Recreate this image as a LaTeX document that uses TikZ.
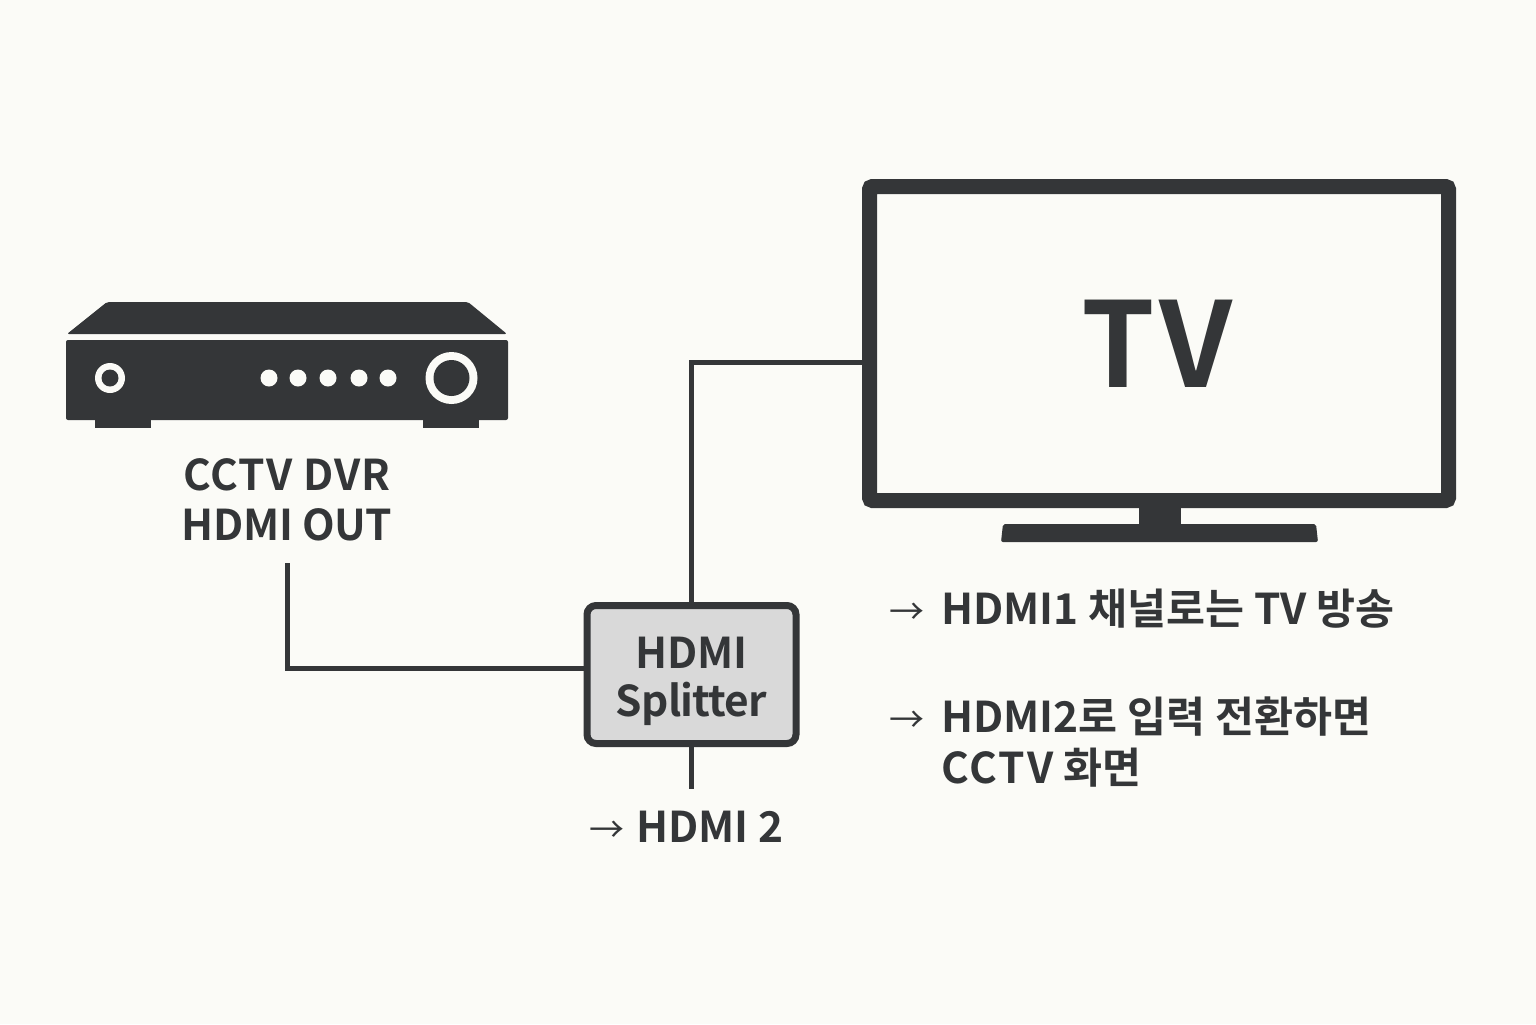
\documentclass[tikz,border=0pt]{standalone}
\usepackage{fontspec}
\setmainfont{Noto Sans CJK KR}[BoldFont={Noto Sans CJK KR Bold}]
\newfontfamily\arrowfont{Noto Sans CJK KR}
\definecolor{bgc}{HTML}{FBFBF7}
\definecolor{ink}{HTML}{343638}
\definecolor{boxc}{HTML}{D9D9D9}
\newcommand{\arrglyph}{{\arrowfont\mdseries\fontsize{17.5pt}{17.5pt}\selectfont →}}
\newcommand{\spaced}[2]{{\addfontfeature{LetterSpace=#1}#2}}
\tikzset{
  lbl/.style={inner sep=0pt,text=ink,font=\bfseries\fontsize{21.2pt}{25pt}\selectfont},
  wire/.style={draw=ink,line width=2.5pt,line join=miter},
  solid ink/.style={fill=ink,draw=none},
  hole/.style={fill=bgc,draw=none,circle,inner sep=0pt},
}
\begin{document}
\begin{tikzpicture}[x=0.5pt,y=-0.5pt]
\fill[bgc] (0,0) rectangle (1536,1024);
\useasboundingbox (0,0) rectangle (1536,1024);
% DVR
\fill[ink,rounded corners=1pt] (107,302) -- (468,302) -- (507,334) -- (67,334) -- cycle;
\node[solid ink,rounded corners=1pt,minimum width=221pt,minimum height=40pt,inner sep=0pt] (dvr) at (287,380) {};
\fill[ink] (95,419) rectangle (151,428);
\fill[ink] (423,419) rectangle (479,428);
\node[hole,minimum size=15pt] (ringa) at (110,378) {};
\node[solid ink,circle,minimum size=8.5pt,inner sep=0pt] (ringb) at (110,378) {};
\foreach \n/\x in {a/269,b/298,c/328,d/359,e/388}
  \node[hole,minimum size=8.5pt] (dot\n) at (\x,378) {};
\node[hole,minimum size=26pt] (knoba) at (451.5,378) {};
\node[solid ink,circle,minimum size=18pt,inner sep=0pt] (knobb) at (451.5,378) {};
% DVR label
\node[lbl,anchor=base] (dvrtopline) at (287,490) {\spaced{2.5}{CCTV DVR}};
\node[lbl,anchor=base] (dvrbotline) at (287,540) {\spaced{-1}{HDMI OUT}};
% TV
\node[draw=ink,line width=7.5pt,rounded corners=1.5pt,minimum width=289.5pt,minimum height=157pt,inner sep=0pt] (tv) at (1159,343.5) {};
\node[inner sep=0pt,text=ink,font=\bfseries\fontsize{59pt}{59pt}\selectfont,anchor=base] (tvname) at (1157,387) {\spaced{3}{TV}};
\fill[ink] (1139,505) rectangle (1181,526);
\fill[ink,rounded corners=1pt] (1003,524) -- (1316,524) -- (1318,542) -- (1001,542) -- cycle;
% Splitter
\node[draw=ink,fill=boxc,line width=3.5pt,rounded corners=4.5pt,minimum width=104.5pt,minimum height=69pt,inner sep=0pt] (splitter) at (691.5,674.5) {};
\node[lbl,anchor=base] (splita) at (691.5,668) {HDMI};
\node[lbl,anchor=base] (splitb) at (691.5,716) {\spaced{-2}{Splitter}};
% connectors
\coordinate (dvrout) at (287,563);
\coordinate (hdmitwo) at (691.5,789);
\draw[wire] (dvrout) |- ([yshift=3.25pt]splitter.west);
\draw[wire] (splitter.north) |- ([yshift=-9.25pt]tv.west);
\draw[wire] (splitter.south) -- (hdmitwo);
% notes
\node[lbl,anchor=base west] (notetwo) at (589,842) {\makebox[23.5pt][l]{\arrglyph}HDMI 2};
\node[lbl,anchor=base west] (noteone) at (889,624) {\makebox[26pt][l]{\arrglyph}HDMI1 채널로는 TV 방송};
\node[lbl,anchor=base west] (notethree) at (889,732) {\makebox[26pt][l]{\arrglyph}HDMI2로 입력 전환하면};
\node[lbl,anchor=base west] (notefour) at (941,783) {\spaced{5}{CCTV} 화면};
\end{tikzpicture}
\end{document}
